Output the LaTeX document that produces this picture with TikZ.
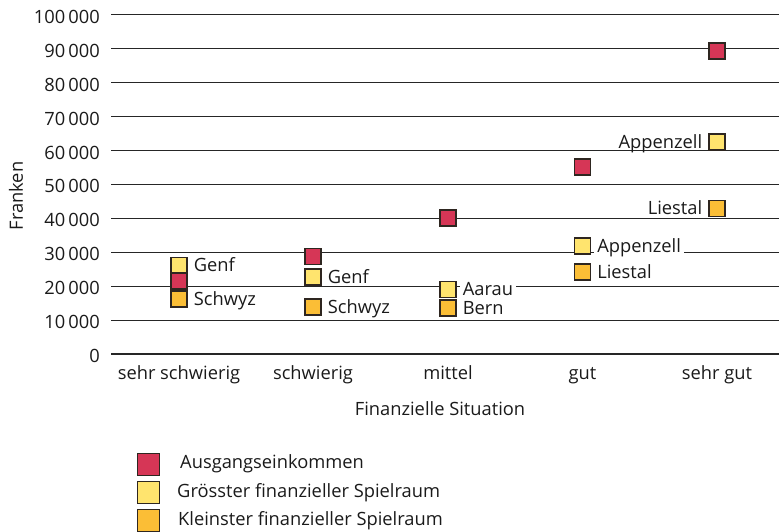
\documentclass[tikz,border=0pt]{standalone}
\usepackage{fontspec}
\setmainfont{Open Sans}
\usetikzlibrary{positioning}
\begin{document}
\begin{tikzpicture}[x=1pt,y=1pt,
  every node/.style={font=\fontsize{18.3}{22}\selectfont,text=textcolor},
  punkt/.style={draw=edgecolor,line width=1.2pt,minimum size=16pt,inner sep=0pt},
  ausgang/.style={punkt,fill=ausgangcolor},
  groesst/.style={punkt,fill=groesstcolor},
  kleinst/.style={punkt,fill=kleinstcolor},
  legendbox/.style={minimum size=22pt},
  ortlabel/.style={fill=white,inner xsep=3pt,inner ysep=1.5pt,text height=13pt,text depth=0pt},
  ticklabel/.style={anchor=east,inner sep=0pt,text height=13pt,text depth=0pt},
  catlabel/.style={inner sep=0pt,text height=13pt,text depth=0pt},
  gridline/.style={gridcolor,line width=1pt}]
\definecolor{textcolor}{HTML}{1A1A1A}
\definecolor{gridcolor}{HTML}{262626}
\definecolor{edgecolor}{HTML}{2E2620}
\definecolor{ausgangcolor}{HTML}{D63656}
\definecolor{groesstcolor}{HTML}{FFE46E}
\definecolor{kleinstcolor}{HTML}{FBBE36}
\useasboundingbox (0,0) rectangle (779,532);
% grid
\draw[gridline,line width=1.6pt] (111,178) -- (779,178);
\draw[gridline] (111,211.9) -- (779,211.9);
\draw[gridline] (111,245.8) -- (779,245.8);
\draw[gridline] (111,279.7) -- (779,279.7);
\draw[gridline] (111,313.6) -- (779,313.6);
\draw[gridline] (111,347.5) -- (779,347.5);
\draw[gridline] (111,381.4) -- (779,381.4);
\draw[gridline] (111,415.3) -- (779,415.3);
\draw[gridline] (111,449.2) -- (779,449.2);
\draw[gridline] (111,483.1) -- (779,483.1);
\draw[gridline] (111,517) -- (779,517);
% y axis
\node[ticklabel] (t0) at (100,176) {0};
\node[ticklabel] (t1) at (100,209.9) {10\,000};
\node[ticklabel] (t2) at (100,243.8) {20\,000};
\node[ticklabel] (t3) at (100,277.7) {30\,000};
\node[ticklabel] (t4) at (100,311.6) {40\,000};
\node[ticklabel] (t5) at (100,345.5) {50\,000};
\node[ticklabel] (t6) at (100,379.4) {60\,000};
\node[ticklabel] (t7) at (100,413.3) {70\,000};
\node[ticklabel] (t8) at (100,447.2) {80\,000};
\node[ticklabel] (t9) at (100,481.1) {90\,000};
\node[ticklabel] (t10) at (100,515) {100\,000};
\node[catlabel,rotate=90] (ytitle) at (16.5,336) {Franken};
% x axis
\node[catlabel] (c1) at (179,158.5) {sehr schwierig};
\node[catlabel] (c2) at (313,158.5) {schwierig};
\node[catlabel] (c3) at (448,158.5) {mittel};
\node[catlabel] (c4) at (582.5,158.5) {gut};
\node[catlabel] (c5) at (717,158.5) {sehr gut};
\node[catlabel] (xtitle) at (440,122.5) {Finanzielle Situation};
% points
\node[groesst] (g1) at (179,266.5) {};
\node[ausgang] (a1) at (179,251) {};
\node[kleinst] (k1) at (179,233) {};
\node[ausgang] (a2) at (313,275.5) {};
\node[groesst] (g2) at (313,255) {};
\node[kleinst] (k2) at (313,225) {};
\node[ausgang] (a3) at (448,314) {};
\node[groesst] (g3) at (448,242.7) {};
\node[kleinst] (k3) at (448,224) {};
\node[ausgang] (a4) at (582.5,365) {};
\node[groesst] (g4) at (582.5,286) {};
\node[kleinst] (k4) at (582.5,260) {};
\node[ausgang] (a5) at (717,481) {};
\node[groesst] (g5) at (717,390) {};
\node[kleinst] (k5) at (717,323.5) {};
% labels
\node[ortlabel,right=3pt of g1] (lg1) {Genf};
\node[ortlabel,right=3pt of k1] (lk1) {Schwyz};
\node[ortlabel,right=3pt of g2] (lg2) {Genf};
\node[ortlabel,right=3pt of k2] (lk2) {Schwyz};
\node[ortlabel,right=3pt of g3] (lg3) {Aarau};
\node[ortlabel,right=3pt of k3] (lk3) {Bern};
\node[ortlabel,right=3pt of g4] (lg4) {Appenzell};
\node[ortlabel,right=3pt of k4] (lk4) {Liestal};
\node[ortlabel,left=3pt of g5] (lg5) {Appenzell};
\node[ortlabel,left=3pt of k5] (lk5) {Liestal};
% legend
\node[ausgang,legendbox] (la) at (148.5,67.5) {};
\node[groesst,legendbox] (lg) at (148.5,39.5) {};
\node[kleinst,legendbox] (lk) at (148.5,11.5) {};
\node[catlabel,anchor=west] (ta) at (180,70) {Ausgangseinkommen};
\node[catlabel,anchor=west] (tg) at (177,41) {Grösster finanzieller Spielraum};
\node[catlabel,anchor=west] (tk) at (178,13) {Kleinster finanzieller Spielraum};
\end{tikzpicture}
\end{document}
